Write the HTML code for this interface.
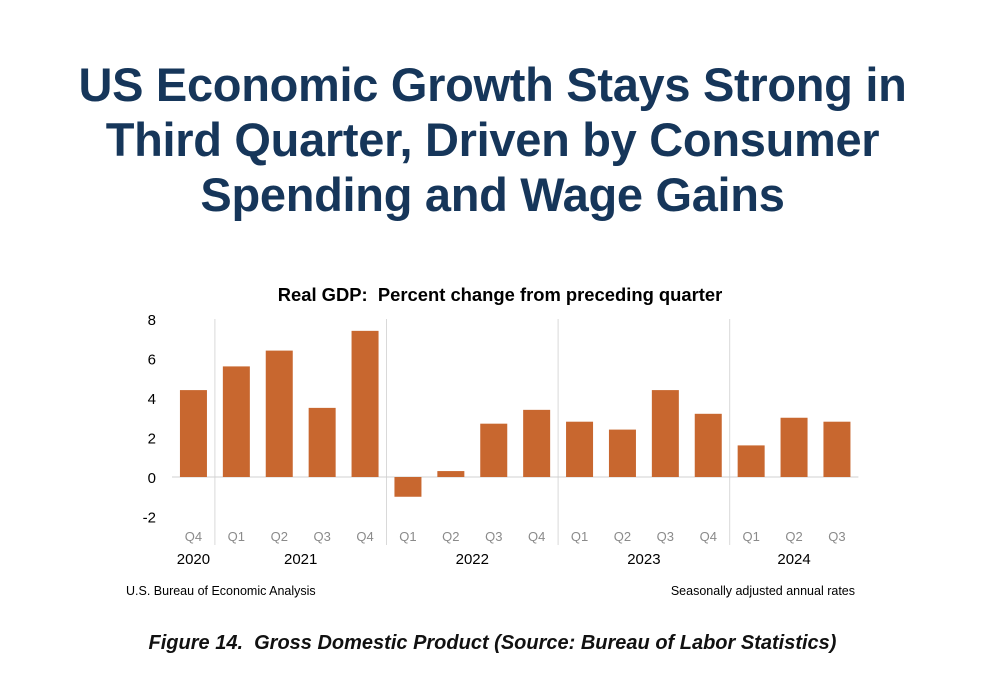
<!DOCTYPE html>
<html><head><meta charset="utf-8">
<style>
body{margin:0;background:#fff;width:985px;height:673px;overflow:hidden;font-family:"Liberation Sans",sans-serif;}
#title{position:absolute;left:0;top:57px;width:985px;text-align:center;color:#16365a;font-weight:bold;font-size:47px;line-height:55px;letter-spacing:-0.3px;}
#caption{position:absolute;left:0;top:632px;width:985px;text-align:center;font-weight:bold;font-style:italic;font-size:20px;color:#111;}
svg{position:absolute;left:0;top:0;}
</style></head><body>
<div id="title">US Economic Growth Stays Strong in<br>Third Quarter, Driven by Consumer<br>Spending and Wage Gains</div>
<svg id="chart" width="985" height="673"></svg>
<div id="caption">Figure 14.&nbsp; Gross Domestic Product (Source: Bureau of Labor Statistics)</div>
<script>
const quarters=["Q4","Q1","Q2","Q3","Q4","Q1","Q2","Q3","Q4","Q1","Q2","Q3","Q4","Q1","Q2","Q3"];
const values=[4.4,5.6,6.4,3.5,7.4,-1.0,0.3,2.7,3.4,2.8,2.4,4.4,3.2,1.6,3.0,2.8];
const yTicks=[8,6,4,2,0,-2];
const years=[{label:"2020",from:0,to:0},{label:"2021",from:1,to:4},{label:"2022",from:5,to:8},{label:"2023",from:9,to:12},{label:"2024",from:13,to:15}];
const NS="http://www.w3.org/2000/svg";
const svg=document.getElementById('chart');
const x0=172,step=42.9,bw=27;
function y(v){return 477-v*19.75;}
function xc(i){return x0+step*(i+0.5);}
function mk(t,a,txt){const e=document.createElementNS(NS,t);for(const k in a)e.setAttribute(k,a[k]);if(txt!==undefined)e.textContent=txt;svg.appendChild(e);return e;}
let e=mk('text',{x:500,y:301,'text-anchor':'middle','font-size':18.4,'font-weight':'bold',fill:'#000'},'Real GDP:\u00a0 Percent change from preceding quarter');


yTicks.forEach(v=>{const t=mk('text',{x:156,y:y(v)+6,'text-anchor':'end','font-size':15,fill:'#000'},v);

});
years.forEach((g,k)=>{if(k===0)return;const sx=x0+step*g.from;const l=mk('line',{x1:sx,x2:sx,y1:319,y2:545,stroke:'#d9d9d9','stroke-width':1});

});
const ax=mk('line',{x1:x0,x2:x0+step*16,y1:y(0),y2:y(0),stroke:'#d0d0d0','stroke-width':1});


values.forEach((v,i)=>{const top=Math.min(y(v),y(0)),h=Math.abs(y(v)-y(0));
const r=mk('rect',{x:xc(i)-bw/2,y:top,width:bw,height:h,fill:'#c8672f'});


const t=mk('text',{x:xc(i),y:541,'text-anchor':'middle','font-size':13,fill:'#8a8a8a'},quarters[i]);

});
years.forEach(g=>{const cx=(xc(g.from)+xc(g.to))/2;const t=mk('text',{x:cx,y:564,'text-anchor':'middle','font-size':15,fill:'#000'},g.label);

});
e=mk('text',{x:126,y:595,'font-size':12.5,fill:'#000'},'U.S. Bureau of Economic Analysis');


e=mk('text',{x:855,y:595,'text-anchor':'end','font-size':12.5,fill:'#000'},'Seasonally adjusted annual rates');


</script>
</body></html>
